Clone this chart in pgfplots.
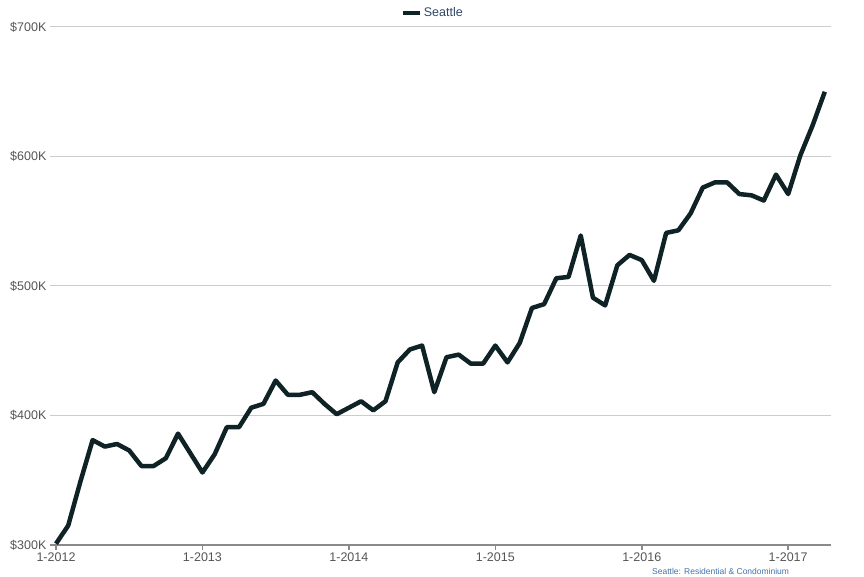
\documentclass[border=0pt]{standalone}
\usepackage{pgfplots}
\pgfplotsset{compat=1.18}
\usepackage{fontspec}
\setmainfont{Liberation Sans}
\definecolor{sealine}{HTML}{0F2226}
\definecolor{gridgray}{HTML}{CCCCCC}
\definecolor{axisgray}{HTML}{8A8A8A}
\definecolor{labelgray}{HTML}{555555}
\definecolor{legendblue}{HTML}{2E4866}
\definecolor{notebue}{HTML}{4472A8}

% monthly values, index 0 = Jan 2012
\pgfplotstableread{
m v
0 301
1 315
2 349
3 381
4 376
5 378
6 373
7 361
8 361
9 367
10 386
11 371
12 356
13 370
14 391
15 391
16 406
17 409
18 427
19 416
20 416
21 418
22 409
23 401
24 406
25 411
26 404
27 411
28 441
29 451
30 454
31 418
32 445
33 447
34 440
35 440
36 454
37 441
38 456
39 483
40 486
41 506
42 507
43 539
44 491
45 485
46 516
47 524
48 520
49 504
50 541
51 543
52 556
53 576
54 580
55 580
56 571
57 570
58 566
59 586
60 571
61 601
62 624
63 650
}\seattle

\begin{document}
\begin{tikzpicture}[x=1pt,y=1pt]
\begin{axis}[
  at={(56pt,31pt)}, anchor=origin,
  scale only axis, width=781pt, height=518pt,
  xmin=-0.5, xmax=63.5,
  ymin=300, ymax=700,
  xtick={0,12,24,36,48,60},
  xticklabels={1-2012,1-2013,1-2014,1-2015,1-2016,1-2017},
  ytick={300,400,500,600,700},
  yticklabels={\$300K,\$400K,\$500K,\$600K,\$700K},
  axis x line=bottom, axis y line=left,
  x axis line style={-, draw=axisgray, line width=1.5pt},
  y axis line style={draw=none},
  ytick style={draw=none},
  xtick style={draw=axisgray, line width=1.5pt},
  tick align=outside, major tick length=5pt,
  ymajorgrids, grid style={gridgray, line width=1pt},
  tick label style={font=\fontsize{12.5}{14}\selectfont, text=labelgray},
  yticklabel style={xshift=5pt},
  xticklabel style={yshift=-2pt, inner sep=1pt},
  legend style={at={(0.49,1.027)}, anchor=center, draw=none, fill=none,
    font=\fontsize{12.5}{14}\selectfont, text=legendblue},
  legend image code/.code={\draw[#1, line width=4.5pt] (0pt,0pt) -- (17pt,0pt);},
  clip=false,
]
\addplot[sealine, line width=4.5pt, line join=round, no marks] table[x=m, y=v] {\seattle};
\legend{Seattle}
\end{axis}
\node[anchor=base west, inner sep=0pt, text=notebue, font=\fontsize{8.5}{10}\selectfont] at (652pt,1.8pt) {Seattle: Residential \& Condominium};
\pgfresetboundingbox
\path[use as bounding box] (0,0) rectangle (864pt,576pt);
\end{tikzpicture}
\end{document}
